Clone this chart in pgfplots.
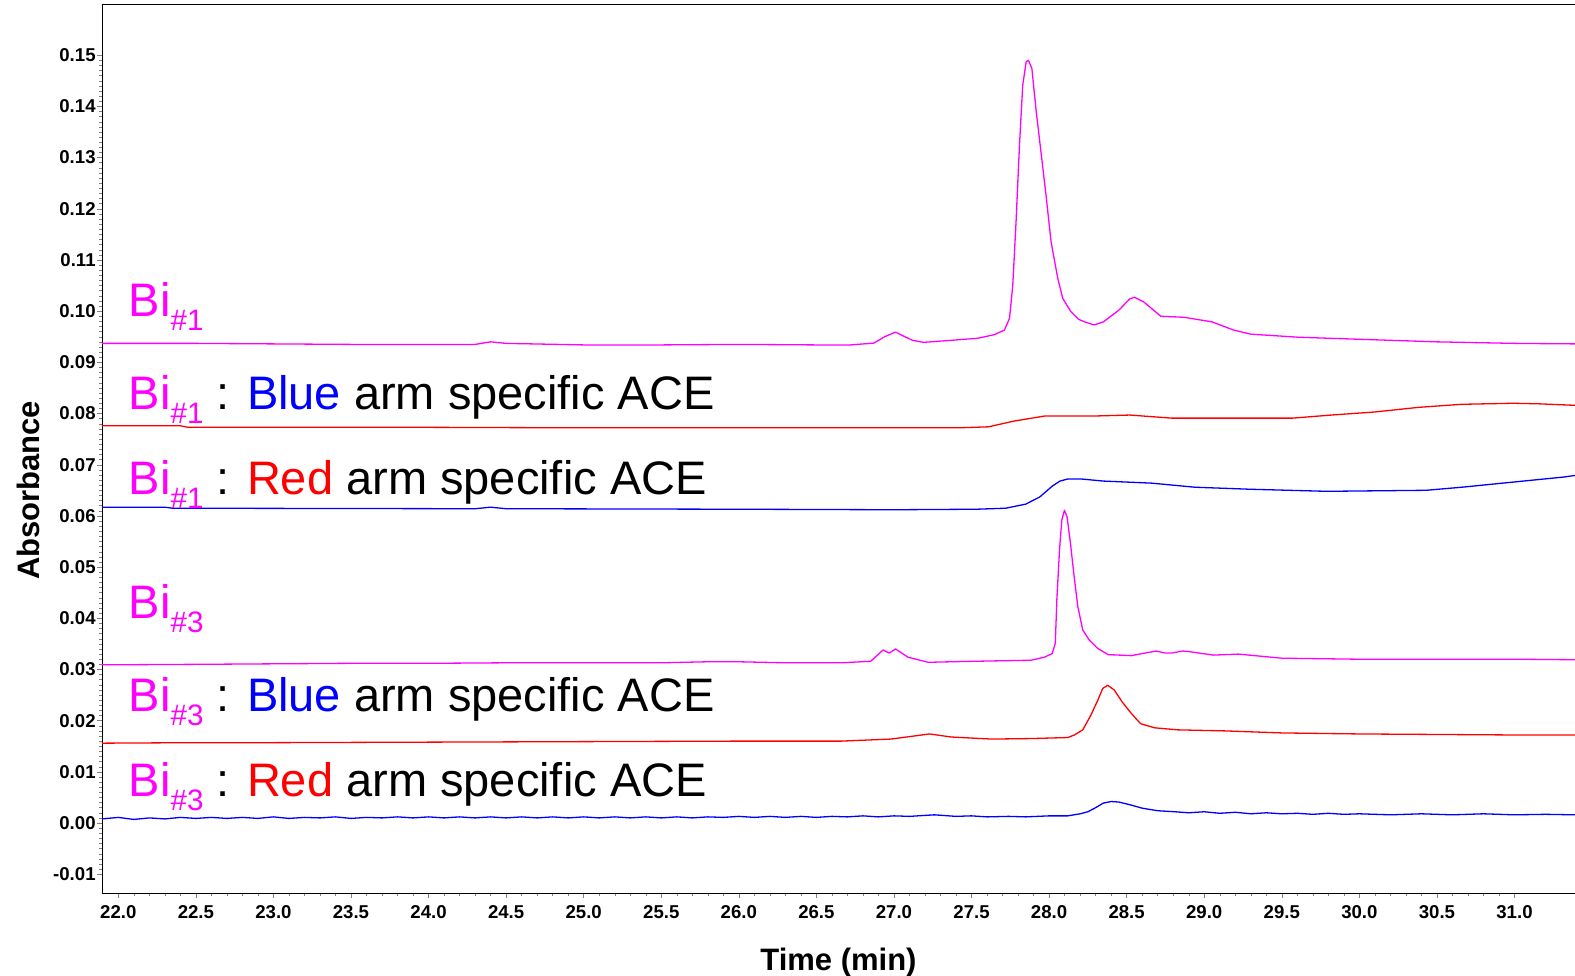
\documentclass[border=0pt]{standalone}
\usepackage{pgfplots}
\pgfplotsset{compat=1.18}
\usepackage{fontspec}
\setmainfont{Liberation Sans}
\definecolor{mag}{RGB}{255,0,255}
\definecolor{rd}{RGB}{255,0,0}
\definecolor{bl}{RGB}{0,0,255}
\newcommand{\Bi}[1]{\textcolor{mag}{Bi\raisebox{-7pt}{\fontsize{14.8}{16}\selectfont\##1}}}
\begin{document}
\begin{tikzpicture}
\begin{axis}[
  at={(0,0)}, anchor=south west,
  scale only axis, width=736.5pt, height=444.6pt,
  xmin=21.895, xmax=31.39, ymin=-0.01371, ymax=0.16,
  axis x line=box, axis y line=left,
  x axis line style={-}, y axis line style={-},
  xtick pos=bottom,
  xtick={22,22.5,...,31.1},
  ytick={-0.01,0,0.01,0.02,0.03,0.04,0.05,0.06,0.07,0.08,0.09,0.10,0.11,0.12,0.13,0.14,0.15},
  minor x tick num=4, minor y tick num=9,
  tick align=outside, major tick length=2.5pt, minor tick length=1.5pt,
  scaled y ticks=false, scaled x ticks=false,
  xticklabel style={/pgf/number format/.cd,fixed,fixed zerofill,precision=1,assume math mode=true},
  yticklabel style={/pgf/number format/.cd,fixed,fixed zerofill,precision=2,assume math mode=true},
  yticklabel style={/tikz/inner xsep=0.5pt},
  tick label style={font=\bfseries\fontsize{9.3}{11}\selectfont},
  xlabel={Time (min)}, ylabel={Absorbance},
  xlabel style={font=\bfseries\fontsize{15.5}{18}\selectfont, at={(axis description cs:0.5,0)}, anchor=base, yshift=-38.5pt},
  ylabel style={font=\bfseries\fontsize{15.5}{18}\selectfont, at={([xshift=-31pt]axis description cs:0,0.453)}, anchor=base},
  every axis plot/.append style={line width=0.65pt, line join=round},
  clip=true,
]
% Bi#1
\addplot[mag] coordinates {
(21.895,0.0937)(22.5,0.0937)(23.0,0.0936)(23.5,0.0935)(24.0,0.0935)(24.3,0.0935)(24.4,0.0940)(24.5,0.0937)
(25.0,0.0934)(25.5,0.0934)(26.0,0.0935)(26.5,0.0934)(26.72,0.0934)(26.87,0.09375)(26.94,0.0950)(27.01,0.0959)
(27.07,0.0950)(27.12,0.0943)(27.19,0.0939)(27.37,0.0943)(27.54,0.0947)(27.647,0.0954)(27.712,0.0963)(27.745,0.0986)
(27.766,0.1051)(27.787,0.1174)(27.809,0.1324)(27.83,0.1441)(27.852,0.1487)(27.867,0.1490)(27.889,0.1474)(27.917,0.1390)
(27.95,0.1305)(27.98,0.1227)(28.013,0.1135)(28.056,0.1064)(28.088,0.1025)(28.14,0.0999)(28.19,0.0984)(28.23,0.0979)
(28.29,0.0973)(28.35,0.0979)(28.45,0.1002)(28.52,0.1024)(28.55,0.1027)(28.61,0.1018)(28.72,0.0990)(28.87,0.0988)(29.05,0.0979)
(29.19,0.0963)(29.30,0.0955)(29.61,0.0949)(30.0,0.0945)(30.5,0.0940)(31.0,0.0937)(31.39,0.0936)
};
% Bi#1 : Blue arm
\addplot[rd] coordinates {
(21.895,0.0776)(22.4,0.0776)(22.45,0.0773)(24.0,0.0773)(25.0,0.0772)(26.0,0.0772)(27.0,0.0772)(27.41,0.0772)
(27.61,0.0774)(27.77,0.0785)(27.97,0.0795)(28.28,0.0795)(28.52,0.0797)(28.79,0.0791)(29.57,0.0791)(29.82,0.0797)
(30.10,0.0803)(30.38,0.0812)(30.66,0.0818)(30.99,0.0820)(31.15,0.0819)(31.39,0.0816)
};
% Bi#1 : Red arm
\addplot[bl] coordinates {
(21.895,0.0617)(22.3,0.0617)(22.35,0.0615)(24.3,0.0614)(24.4,0.0617)(24.5,0.0614)(26.0,0.0613)(27.0,0.0612)
(27.53,0.0613)(27.72,0.0615)(27.85,0.0623)(27.94,0.0637)(28.02,0.0658)(28.07,0.0668)(28.12,0.0672)(28.21,0.0672)(28.35,0.0668)
(28.66,0.0664)(28.94,0.0656)(29.30,0.0652)(29.79,0.0648)(30.43,0.0650)(30.66,0.0656)(30.99,0.0666)(31.32,0.0676)(31.39,0.0679)
};
% Bi#3
\addplot[mag] coordinates {
(21.895,0.0309)(22.5,0.0310)(23.0,0.0311)(23.5,0.0312)(24.0,0.0312)(24.5,0.0313)(25.0,0.0313)(25.5,0.0313)
(25.8,0.0315)(26.0,0.0315)(26.3,0.0313)(26.66,0.0313)(26.85,0.0316)(26.93,0.0338)(26.97,0.0332)(27.01,0.0340)
(27.09,0.0324)(27.22,0.0314)(27.52,0.0316)(27.884,0.0318)(27.97,0.0324)(28.02,0.0331)(28.04,0.0351)(28.05,0.0436)
(28.067,0.0533)(28.082,0.0592)(28.099,0.0611)(28.116,0.0598)(28.138,0.0546)(28.159,0.0488)(28.185,0.0423)(28.217,0.0377)
(28.26,0.0357)(28.314,0.0341)(28.38,0.0329)(28.53,0.0327)(28.69,0.0336)(28.75,0.0332)(28.79,0.0332)(28.86,0.0336)
(28.90,0.0335)(29.06,0.0328)(29.22,0.0330)(29.50,0.0322)(30.0,0.0320)(30.5,0.0320)(31.0,0.0320)(31.39,0.0319)
};
% Bi#3 : Blue arm
\addplot[rd] coordinates {
(21.895,0.0156)(22.5,0.0157)(23.0,0.0157)(24.0,0.0158)(25.0,0.0159)(26.0,0.0160)(26.66,0.0160)(26.98,0.0164)
(27.23,0.0174)(27.37,0.0168)(27.63,0.0164)(27.884,0.0165)(28.12,0.0167)(28.163,0.0172)(28.217,0.0182)(28.27,0.0211)
(28.314,0.0240)(28.346,0.0263)(28.378,0.0269)(28.42,0.0260)(28.47,0.0237)(28.53,0.0214)(28.59,0.0194)(28.68,0.0186)
(28.83,0.0182)(29.13,0.0180)(29.50,0.0176)(30.0,0.0174)(30.5,0.0173)(31.0,0.0172)(31.39,0.0172)
};
% Bi#3 : Red arm
\addplot[bl] coordinates {
(21.895,0.0008)(22.0,0.0011)(22.1,0.0007)(22.2,0.0010)(22.3,0.0008)(22.4,0.0011)(22.5,0.0009)(22.6,0.0011)
(22.7,0.0009)(22.8,0.0011)(22.9,0.0009)(23.0,0.0012)(23.1,0.0009)(23.2,0.0011)(23.3,0.0010)(23.4,0.0012)
(23.5,0.0009)(23.6,0.0011)(23.7,0.0010)(23.8,0.0012)(23.9,0.0010)(24.0,0.0012)(24.1,0.0010)(24.2,0.0012)
(24.3,0.0010)(24.4,0.0012)(24.5,0.0010)(24.6,0.0012)(24.7,0.0010)(24.8,0.0012)(24.9,0.0010)(25.0,0.0012)
(25.1,0.0010)(25.2,0.0012)(25.3,0.0010)(25.4,0.0012)(25.5,0.0010)(25.6,0.0012)(25.7,0.0010)(25.8,0.0012)
(25.9,0.0011)(26.0,0.0013)(26.1,0.0011)(26.2,0.0013)(26.3,0.0011)(26.4,0.0013)(26.5,0.0011)(26.6,0.0013)
(26.7,0.0012)(26.8,0.0014)(26.9,0.0012)(27.0,0.0014)(27.1,0.0013)(27.26,0.0016)(27.4,0.0013)(27.5,0.0014)
(27.6,0.0012)(27.74,0.0013)(27.85,0.0012)(28.0,0.0014)(28.12,0.0014)(28.2,0.0018)(28.25,0.0022)(28.30,0.0030)
(28.35,0.0039)(28.40,0.0042)(28.45,0.0041)(28.53,0.0035)(28.60,0.0029)(28.64,0.0027)(28.7,0.0024)(28.81,0.0022)
(28.9,0.0020)(29.0,0.0022)(29.1,0.0019)(29.2,0.0021)(29.3,0.0018)(29.4,0.0020)(29.5,0.0018)(29.6,0.0019)
(29.7,0.0017)(29.8,0.0019)(29.9,0.0017)(30.0,0.0018)(30.2,0.0016)(30.4,0.0018)(30.6,0.0016)(30.8,0.0018)
(31.0,0.0016)(31.2,0.0017)(31.39,0.0016)
};
\begin{scope}[every node/.style={anchor=base west, inner sep=0pt, font=\fontsize{23.5}{28}\selectfont}]
\node at (axis cs:22.065,0.0990) {\Bi{1}};
\node at (axis cs:22.065,0.0807) {\Bi{1} : \textcolor{bl}{Blue} arm specific ACE};
\node at (axis cs:22.065,0.0641) {\Bi{1} : \textcolor{rd}{Red} arm specific ACE};
\node at (axis cs:22.065,0.0400) {\Bi{3}};
\node at (axis cs:22.065,0.0217) {\Bi{3} : \textcolor{bl}{Blue} arm specific ACE};
\node at (axis cs:22.065,0.0051) {\Bi{3} : \textcolor{rd}{Red} arm specific ACE};
\end{scope}
\end{axis}
\pgfresetboundingbox
\path[use as bounding box] (-51pt,-41.35pt) rectangle (736.5pt,446.6pt);
\end{tikzpicture}
\end{document}
